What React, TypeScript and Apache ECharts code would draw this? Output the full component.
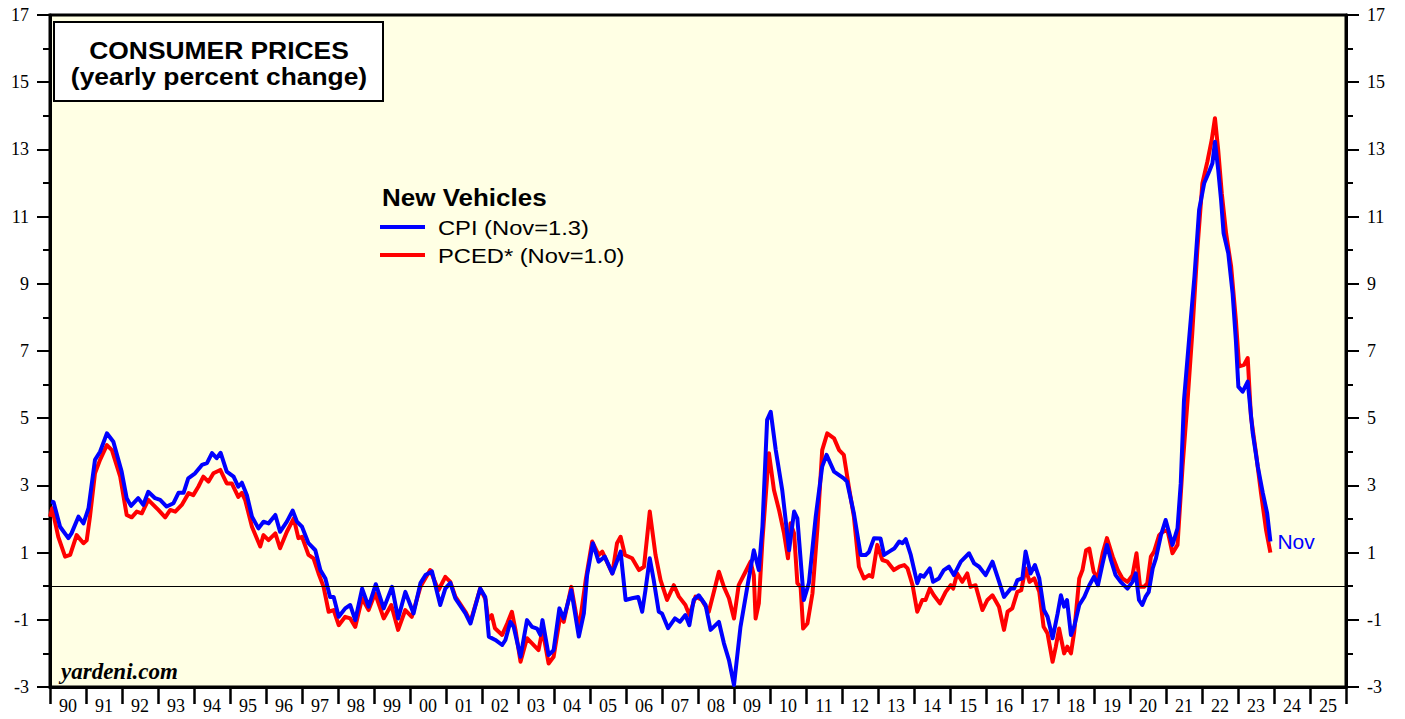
import React, { useEffect, useRef } from "react";
import * as echarts from "echarts";

const yearLabels = ["90","91","92","93","94","95","96","97","98","99","00","01","02","03","04","05","06","07","08","09","10","11","12","13","14","15","16","17","18","19","20","21","22","23","24","25"];

const cpiSeries: [number, number][] = [
  [1990.03,2.52],[1990.1,2.5],[1990.28,1.77],[1990.51,1.43],[1990.6,1.58],[1990.79,2.07],[1990.93,1.87],
  [1991.07,2.32],[1991.25,3.76],[1991.39,4.0],[1991.58,4.55],[1991.76,4.3],[1991.99,3.41],
  [1992.13,2.62],[1992.25,2.39],[1992.45,2.62],[1992.59,2.42],[1992.73,2.81],[1992.92,2.62],
  [1993.06,2.57],[1993.24,2.37],[1993.43,2.47],[1993.57,2.78],[1993.71,2.78],[1993.84,3.21],
  [1994.03,3.36],[1994.22,3.61],[1994.36,3.66],[1994.5,3.96],[1994.63,3.81],[1994.74,3.97],[1994.91,3.41],
  [1995.1,3.26],[1995.23,2.96],[1995.33,3.08],[1995.47,2.71],[1995.61,2.07],[1995.79,1.72],[1995.93,1.92],
  [1996.07,1.87],[1996.26,2.12],[1996.39,1.62],[1996.58,1.92],[1996.74,2.25],[1996.86,1.92],
  [1997.0,1.77],[1997.18,1.28],[1997.37,1.07],[1997.51,0.48],[1997.65,0.23],[1997.78,-0.32],[1997.88,-0.32],
  [1998.02,-0.91],[1998.2,-0.66],[1998.34,-0.56],[1998.48,-1.01],[1998.67,-0.07],[1998.85,-0.61],
  [1999.05,0.06],[1999.27,-0.66],[1999.5,-0.02],[1999.67,-0.96],[1999.87,-0.17],
  [2000.1,-0.81],[2000.29,0.09],[2000.43,0.33],[2000.61,0.44],[2000.84,-0.56],[2000.98,-0.07],
  [2001.12,0.1],[2001.26,-0.36],[2001.54,-0.81],[2001.68,-1.11],[2001.95,-0.07],
  [2002.09,-0.32],[2002.19,-1.5],[2002.37,-1.6],[2002.56,-1.75],[2002.65,-1.6],[2002.79,-1.06],[2002.88,-1.21],
  [2003.07,-2.1],[2003.25,-1.01],[2003.39,-1.21],[2003.53,-1.26],[2003.62,-1.45],[2003.68,-1.01],[2003.85,-2.05],[2003.99,-1.9],
  [2004.15,-0.66],[2004.27,-0.96],[2004.48,-0.12],[2004.69,-1.5],[2004.83,-0.81],[2004.92,0.33],
  [2005.08,1.28],[2005.24,0.73],[2005.41,0.88],[2005.62,0.38],[2005.85,1.03],[2005.99,-0.41],
  [2006.17,-0.36],[2006.34,-0.32],[2006.45,-0.76],[2006.54,-0.12],[2006.66,0.83],[2006.77,0.18],[2006.91,-0.76],
  [2007.0,-0.81],[2007.17,-1.25],[2007.36,-0.96],[2007.5,-1.06],[2007.65,-0.86],[2007.76,-1.16],[2007.88,-0.41],
  [2008.02,-0.27],[2008.21,-0.56],[2008.35,-1.3],[2008.58,-1.06],[2008.72,-1.7],[2008.86,-2.2],
  [2009.0,-2.94],[2009.18,-1.21],[2009.37,-0.02],[2009.55,1.07],[2009.69,0.48],[2009.79,1.77],[2009.92,4.95],
  [2010.02,5.19],[2010.16,4.05],[2010.34,2.86],[2010.53,1.07],[2010.67,2.22],[2010.76,2.02],[2010.94,-0.41],
  [2011.08,0.09],[2011.27,2.07],[2011.45,3.56],[2011.57,3.91],[2011.78,3.41],
  [2012.05,3.21],[2012.14,3.11],[2012.33,2.17],[2012.52,0.93],[2012.66,0.93],[2012.75,1.02],[2012.89,1.43],
  [2013.07,1.42],[2013.17,0.93],[2013.31,1.03],[2013.45,1.12],[2013.59,1.33],[2013.68,1.28],[2013.77,1.4],[2013.91,0.93],
  [2014.09,0.09],[2014.18,0.33],[2014.27,0.28],[2014.44,0.53],[2014.53,0.13],[2014.69,0.23],[2014.83,0.48],[2014.97,0.58],
  [2015.11,0.33],[2015.3,0.73],[2015.53,0.98],[2015.67,0.68],[2015.81,0.58],[2015.99,0.33],
  [2016.18,0.73],[2016.32,0.28],[2016.5,-0.32],[2016.69,-0.07],[2016.78,-0.07],[2016.87,0.18],
  [2017.01,0.23],[2017.1,1.03],[2017.24,0.38],[2017.36,0.63],[2017.48,0.23],[2017.61,-0.71],[2017.71,-0.91],[2017.85,-1.55],[2017.99,-0.81],
  [2018.08,-0.27],[2018.17,-0.61],[2018.25,-0.41],[2018.36,-1.45],[2018.45,-1.2],[2018.59,-0.56],[2018.73,-0.32],[2018.87,0.03],
  [2019.0,0.28],[2019.11,0.03],[2019.24,0.68],[2019.36,1.23],[2019.47,0.78],[2019.6,0.33],[2019.74,0.13],[2019.93,-0.07],
  [2020.07,0.13],[2020.16,0.38],[2020.25,-0.41],[2020.34,-0.56],[2020.43,-0.32],[2020.52,-0.17],[2020.63,0.53],[2020.72,0.83],[2020.86,1.52],[2020.99,1.97],
  [2021.18,1.23],[2021.32,1.72],[2021.41,3.06],[2021.5,5.54],[2021.64,7.33],[2021.79,9.21],[2021.92,11.2],
  [2022.06,11.99],[2022.2,12.34],[2022.29,12.59],[2022.36,13.23],[2022.45,12.39],[2022.53,11.49],[2022.6,10.5],[2022.73,9.91],[2022.85,8.72],[2022.94,7.33],
  [2023.01,5.94],[2023.13,5.79],[2023.27,6.09],[2023.41,4.55],[2023.55,3.56],[2023.69,2.77],[2023.81,2.17],[2023.9,1.33]
];

const pcedSeries: [number, number][] = [
  [1990.0,2.07],[1990.06,2.32],[1990.23,1.47],[1990.42,0.88],[1990.56,0.93],[1990.74,1.52],[1990.93,1.28],
  [1991.02,1.37],[1991.11,2.07],[1991.25,3.36],[1991.39,3.76],[1991.58,4.2],[1991.72,4.05],[1991.95,3.26],
  [1992.13,2.12],[1992.27,2.05],[1992.41,2.22],[1992.55,2.17],[1992.73,2.57],[1992.87,2.42],
  [1993.01,2.27],[1993.2,2.05],[1993.34,2.27],[1993.48,2.22],[1993.66,2.42],[1993.85,2.77],[1993.98,2.71],
  [1994.12,2.96],[1994.26,3.26],[1994.4,3.11],[1994.54,3.36],[1994.73,3.46],[1994.91,3.06],
  [1995.05,3.06],[1995.23,2.66],[1995.33,2.78],[1995.42,2.57],[1995.61,1.77],[1995.84,1.18],[1995.93,1.52],
  [1996.07,1.37],[1996.26,1.57],[1996.39,1.13],[1996.58,1.62],[1996.77,2.02],[1996.9,1.43],
  [1997.0,1.47],[1997.18,0.93],[1997.32,0.83],[1997.46,0.38],[1997.6,-0.02],[1997.74,-0.76],[1997.88,-0.71],
  [1998.02,-1.16],[1998.2,-0.91],[1998.34,-0.96],[1998.48,-1.21],[1998.67,-0.36],[1998.85,-0.71],
  [1999.03,-0.21],[1999.27,-0.96],[1999.48,-0.56],[1999.67,-1.3],[1999.87,-0.71],
  [2000.05,-0.91],[2000.29,-0.02],[2000.56,0.48],[2000.79,-0.12],[2000.98,0.28],
  [2001.12,0.13],[2001.26,-0.31],[2001.54,-0.76],[2001.68,-1.06],[2001.95,-0.07],
  [2002.1,-0.4],[2002.17,-1.0],[2002.27,-0.86],[2002.36,-1.25],[2002.56,-1.45],[2002.7,-1.11],[2002.83,-0.76],[2002.93,-1.3],
  [2003.07,-2.25],[2003.25,-1.55],[2003.39,-1.7],[2003.57,-1.9],[2003.68,-1.3],[2003.85,-2.3],[2003.99,-2.1],
  [2004.17,-0.91],[2004.27,-1.06],[2004.48,-0.02],[2004.69,-1.3],[2004.88,0.18],
  [2005.06,1.33],[2005.24,0.93],[2005.34,1.03],[2005.62,0.38],[2005.75,1.28],[2005.85,1.47],[2005.97,0.93],
  [2006.17,0.83],[2006.36,0.48],[2006.5,0.58],[2006.66,2.22],[2006.82,0.93],[2006.96,0.18],
  [2007.14,-0.41],[2007.33,0.03],[2007.47,-0.31],[2007.65,-0.56],[2007.76,-0.86],[2007.93,-0.31],
  [2008.1,-0.4],[2008.3,-0.76],[2008.44,-0.17],[2008.58,0.43],[2008.72,-0.02],[2008.86,-0.36],
  [2009.0,-0.96],[2009.13,0.03],[2009.32,0.43],[2009.46,0.73],[2009.55,0.33],[2009.6,-0.96],[2009.69,-0.51],[2009.79,1.37],[2009.97,3.96],
  [2010.11,2.86],[2010.25,2.27],[2010.39,1.57],[2010.5,0.83],[2010.57,1.87],[2010.67,1.57],[2010.76,0.09],[2010.85,-0.02],[2010.92,-1.26],
  [2011.04,-1.11],[2011.18,-0.21],[2011.32,1.77],[2011.45,4.05],[2011.59,4.55],[2011.78,4.4],[2011.92,4.05],
  [2012.05,3.91],[2012.19,2.96],[2012.33,2.07],[2012.47,0.58],[2012.61,0.23],[2012.75,0.33],[2012.84,0.28],[2012.98,1.23],
  [2013.12,0.78],[2013.26,0.73],[2013.44,0.48],[2013.59,0.58],[2013.73,0.63],[2013.82,0.53],[2013.96,0.03],
  [2014.09,-0.76],[2014.23,-0.41],[2014.32,-0.41],[2014.44,-0.07],[2014.55,-0.27],[2014.72,-0.51],[2014.88,-0.17],
  [2015.02,0.03],[2015.09,-0.07],[2015.2,0.38],[2015.34,0.13],[2015.48,0.38],[2015.57,-0.02],[2015.71,0.03],[2015.9,-0.71],
  [2016.04,-0.41],[2016.18,-0.27],[2016.36,-0.61],[2016.5,-1.3],[2016.6,-0.76],[2016.73,-0.66],[2016.87,-0.17],[2016.98,-0.12],
  [2017.1,0.53],[2017.21,0.13],[2017.34,0.23],[2017.48,-0.17],[2017.6,-1.21],[2017.71,-1.41],[2017.85,-2.25],[2017.94,-1.8],
  [2018.03,-1.26],[2018.17,-2.0],[2018.26,-1.8],[2018.36,-2.0],[2018.45,-1.36],[2018.59,0.23],[2018.68,0.48],[2018.78,1.07],[2018.87,1.12],[2018.99,0.43],
  [2019.1,0.23],[2019.24,0.98],[2019.36,1.43],[2019.52,0.88],[2019.66,0.48],[2019.79,0.23],[2019.93,0.13],
  [2020.07,0.33],[2020.18,0.98],[2020.28,-0.02],[2020.39,-0.02],[2020.48,0.08],[2020.58,0.88],[2020.67,1.03],[2020.81,1.52],[2020.91,1.62],
  [2021.04,1.67],[2021.18,0.98],[2021.32,1.23],[2021.46,3.56],[2021.6,5.54],[2021.73,7.53],[2021.87,10.0],
  [2022.01,11.99],[2022.15,12.64],[2022.27,13.28],[2022.36,13.93],[2022.45,12.98],[2022.55,11.69],[2022.67,10.5],[2022.81,9.51],[2022.94,7.93],
  [2023.03,6.54],[2023.17,6.59],[2023.27,6.79],[2023.36,5.05],[2023.5,3.96],[2023.64,2.77],[2023.78,1.67],[2023.9,1.0]
];

const cpiName = "CPI (Nov=1.3)";
const pcedName = "PCED* (Nov=1.0)";

const SANS = '"Liberation Sans", Arial, sans-serif';
const SERIF = '"Liberation Serif", "Times New Roman", serif';

export default function App() {
  const ref = useRef<HTMLDivElement>(null);
  useEffect(() => {
    if (!ref.current) return;
    const chart = echarts.init(ref.current, undefined, { renderer: "svg" });
    const yAxisBase = (pos: "left" | "right") => ({
      type: "value",
      min: -3,
      max: 17,
      interval: 2,
      position: pos,
      axisLine: { show: true, onZero: false, lineStyle: { color: "#000", width: 3 } },
      axisTick: { show: true, length: 13, lineStyle: { color: "#000", width: 2 } },
      minorTick: { show: true, splitNumber: 2, length: 7, lineStyle: { color: "#000", width: 2 } },
      axisLabel: { margin: 21, fontFamily: SERIF, fontSize: 18, color: "#000" },
      splitLine: { show: false },
      minorSplitLine: { show: false },
    });
    chart.setOption({
      animation: false,
      grid: {
        left: 50,
        right: 59,
        top: 15,
        bottom: 32,
        show: true,
        backgroundColor: "#FFFFE4",
        borderColor: "#000",
        borderWidth: 3,
        outerBoundsMode: "none",
      },
      xAxis: [
        {
          type: "value",
          min: 1990,
          max: 2026,
          interval: 1,
          position: "bottom",
          axisLine: { show: true, onZero: false, lineStyle: { color: "#000", width: 3 } },
          axisTick: { show: true, length: 17, lineStyle: { color: "#000", width: 2.5 } },
          axisLabel: { show: false },
          splitLine: { show: false },
        },
        {
          type: "category",
          data: yearLabels,
          position: "bottom",
          boundaryGap: true,
          axisLine: { show: false },
          axisTick: { show: false },
          axisLabel: { margin: 10, fontFamily: SERIF, fontSize: 18, color: "#000", interval: 0 },
          splitLine: { show: false },
        },
      ],
      yAxis: [yAxisBase("left"), yAxisBase("right")],
      series: [
        {
          name: pcedName,
          type: "line",
          xAxisIndex: 0,
          yAxisIndex: 0,
          data: pcedSeries,
          showSymbol: false,
          lineStyle: { color: "#FF0000", width: 4, join: "round" },
          itemStyle: { color: "#FF0000" },
          markLine: {
            silent: true,
            symbol: ["none", "none"],
            label: { show: false },
            lineStyle: { color: "#000", width: 1.2, type: "solid" },
            data: [{ yAxis: 0 }],
          },
          z: 2,
        },
        {
          name: cpiName,
          type: "line",
          xAxisIndex: 0,
          yAxisIndex: 0,
          data: cpiSeries,
          showSymbol: false,
          lineStyle: { color: "#0000FF", width: 4, join: "round" },
          itemStyle: { color: "#0000FF" },
          endLabel: {
            show: true,
            formatter: "Nov",
            color: "#0000FF",
            fontFamily: SANS,
            fontSize: 21,
            distance: 7,
          },
          z: 3,
        },
      ],
      graphic: [
        {
          type: "rect",
          shape: { x: 54, y: 22, width: 329, height: 79 },
          style: { fill: "#FFFFFF", stroke: "#000", lineWidth: 2 },
          z: 10,
        },
        {
          type: "text",
          x: 219,
          y: 50,
          scaleX: 1.1,
          style: { text: "CONSUMER PRICES", fontFamily: SANS, fontWeight: "bold", fontSize: 24, fill: "#000", align: "center", verticalAlign: "middle" },
          z: 11,
        },
        {
          type: "text",
          x: 219,
          y: 76,
          scaleX: 1.1,
          style: { text: "(yearly percent change)", fontFamily: SANS, fontWeight: "bold", fontSize: 24, fill: "#000", align: "center", verticalAlign: "middle" },
          z: 11,
        },
        {
          type: "text",
          x: 382,
          y: 198,
          scaleX: 1.13,
          style: { text: "New Vehicles", fontFamily: SANS, fontWeight: "bold", fontSize: 23, fill: "#000", align: "left", verticalAlign: "middle" },
          z: 11,
        },
        {
          type: "line",
          shape: { x1: 380, y1: 227, x2: 425, y2: 227 },
          style: { stroke: "#0000FF", lineWidth: 4 },
          z: 11,
        },
        {
          type: "line",
          shape: { x1: 380, y1: 255, x2: 425, y2: 255 },
          style: { stroke: "#FF0000", lineWidth: 4 },
          z: 11,
        },
        {
          type: "text",
          x: 438,
          y: 228,
          scaleX: 1.13,
          style: { text: cpiName, fontFamily: SANS, fontSize: 21, fill: "#000", align: "left", verticalAlign: "middle" },
          z: 11,
        },
        {
          type: "text",
          x: 438,
          y: 256,
          scaleX: 1.13,
          style: { text: pcedName, fontFamily: SANS, fontSize: 21, fill: "#000", align: "left", verticalAlign: "middle" },
          z: 11,
        },
        {
          type: "text",
          x: 61,
          y: 671,
          style: { text: "yardeni.com", fontFamily: SERIF, fontWeight: "bold", fontStyle: "italic", fontSize: 23, fill: "#000", align: "left", verticalAlign: "middle" },
          z: 11,
        },
      ],
    });
    return () => chart.dispose();
  }, []);
  return (
    <div
      ref={ref}
      style={{ position: "fixed", left: 0, top: 0, width: 1405, height: 719, background: "#FFFFFF" }}
    />
  );
}
